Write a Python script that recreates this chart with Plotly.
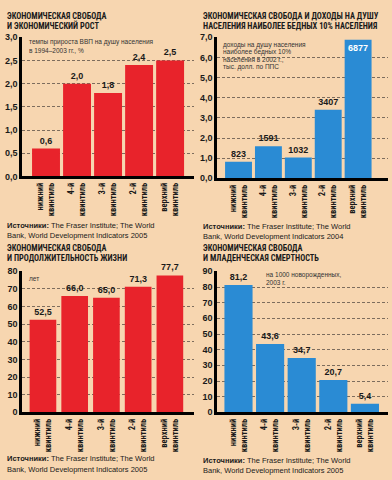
import plotly.graph_objects as go

# ---------------- data ----------------
categories = ["нижний<br>квинтиль", "4-й<br>квинтиль", "3-й<br>квинтиль",
              "2-й<br>квинтиль", "верхний<br>квинтиль"]
gdp_growth = [0.6, 2.0, 1.8, 2.4, 2.5]          # % per year 1994-2003
poor_income = [823, 1591, 1032, 3407, 6877]     # USD PPP, 2002
life_exp = [52.5, 66.0, 65.0, 71.3, 77.7]       # years
infant_mort = [81.2, 43.6, 34.7, 20.7, 5.4]     # per 1000 births

titles = [
    ["ЭКОНОМИЧЕСКАЯ СВОБОДА", "И ЭКОНОМИЧЕСКИЙ РОСТ"],
    ["ЭКОНОМИЧЕСКАЯ СВОБОДА И ДОХОДЫ НА ДУШУ", "НАСЕЛЕНИЯ НАИБОЛЕЕ БЕДНЫХ 10% НАСЕЛЕНИЯ"],
    ["ЭКОНОМИЧЕСКАЯ СВОБОДА", "И ПРОДОЛЖИТЕЛЬНОСТЬ ЖИЗНИ"],
    ["ЭКОНОМИЧЕСКАЯ СВОБОДА", "И МЛАДЕНЧЕСКАЯ СМЕРТНОСТЬ"],
]
notes = [
    ["темпы прироста ВВП на душу населения", "в 1994–2003 гг., %"],
    ["доходы на душу населения", "наиболее бедных 10%", "населения в 2002 г.,", "тыс. долл. по ППС"],
    ["лет"],
    ["на 1000 новорожденных,", "2003 г."],
]
sources = [
    ["The Fraser Institute; The World", "Bank, World Development Indicators 2005"],
    ["The Fraser Institute; The World", "Bank, World Development Indicators 2004"],
    ["The Fraser Institute; The World", "Bank, World Development Indicators 2005"],
    ["The Fraser Institute; The World", "Bank, World Development Indicators 2005"],
]

# ---------------- style ----------------
W, H = 392, 480
RED = "#e8232b"
BLUE = "#2a8bd4"
BG = "#f7d6b0"
INK = "#1a1a1a"
GRID = "#7d6d5d"
NARROW = "Roboto Condensed, DejaVu Sans Condensed, sans-serif"
REG = "Liberation Sans, Arial, sans-serif"


def px(x):
    return x / W


def py(y):
    return 1 - y / H


def comma1(v):
    return f"{v:.1f}".replace(".", ",")


panels = [
    dict(y=gdp_growth, text=[comma1(v) for v in gdp_growth], color=RED,
         xdom=(22, 194), ydom=(33, 175), xr=[-0.774, 4.77], yr=[0, 3], dt=0.5, fmt=".1f",
         bw=0.9, left=5, ty=(11.5, 21), noteloc=(27, 38, 8), src=(225, 235),
         tpos="outside"),
    dict(y=[v / 1000 for v in poor_income], text=[str(v) for v in poor_income], color=BLUE,
         xdom=(217, 388), ydom=(33, 177), xr=[-0.72, 5.0], yr=[0, 7], dt=1, fmt=".1f",
         bw=0.9, left=201, ty=(11.5, 21), noteloc=(221, 40.5, 7.5), src=(226.5, 236.5),
         tpos=["outside", "outside", "outside", "outside", "inside"]),
    dict(y=life_exp, text=[comma1(v) for v in life_exp], color=RED,
         xdom=(22, 194), ydom=(272, 416), xr=[-0.66, 4.76], yr=[0, 80], dt=10, fmt="d",
         bw=0.84, left=5, ty=(248.5, 258.5), noteloc=(27, 279, 8), src=(463.5, 474),
         tpos="outside"),
    dict(y=infant_mort, text=[comma1(v) for v in infant_mort], color=BLUE,
         xdom=(217, 388), ydom=(272, 416), xr=[-0.68, 4.73], yr=[0, 90], dt=10, fmt="d",
         bw=0.89, left=201, ty=(248.5, 258.5), noteloc=(264, 275.5, 8), src=(465, 475),
         tpos="outside"),
]

fig = go.Figure()
annotations = []
layout_axes = {}

for i, p in enumerate(panels):
    n = "" if i == 0 else str(i + 1)
    fig.add_trace(go.Bar(
        x=categories, y=p["y"], text=p["text"], textposition=p["tpos"],
        insidetextanchor="end", constraintext="none",
        outsidetextfont=dict(family=REG, size=9, color=INK, weight="bold"),
        insidetextfont=dict(family=REG, size=9, color="white", weight="bold"),
        marker=dict(color=p["color"], line=dict(width=0)),
        width=p["bw"], cliponaxis=False, showlegend=False, hoverinfo="skip",
        xaxis="x" + n, yaxis="y" + n,
    ))
    layout_axes["xaxis" + n] = dict(
        domain=[px(p["xdom"][0]), px(p["xdom"][1])], anchor="y" + n,
        type="category", range=p["xr"], tickangle=-90,
        tickfont=dict(family=NARROW, size=8.5, color=INK, weight="bold"),
        showline=True, linecolor="black", linewidth=3, showgrid=False,
        ticks="", ticklen=0, zeroline=False, fixedrange=True,
    )
    layout_axes["yaxis" + n] = dict(
        domain=[py(p["ydom"][1]), py(p["ydom"][0])], anchor="x" + n,
        range=p["yr"], dtick=p["dt"], tick0=0, tickformat=p["fmt"],
        tickfont=dict(family=REG, size=9, color=INK, weight="bold"),
        showline=True, linecolor="black", linewidth=2.5,
        showgrid=True, gridcolor=GRID, gridwidth=0.7, griddash="3px,2px",
        zeroline=False, ticks="", fixedrange=True,
    )
    # titles
    for line, yy in zip(titles[i], p["ty"]):
        annotations.append(dict(
            text=line, x=px(p["left"]), y=py(yy), xref="paper", yref="paper",
            xanchor="left", yanchor="middle", showarrow=False,
            font=dict(family=NARROW, size=8.3, color=INK, weight="bold")))
    # notes inside plot
    nx, ny, nstep = p["noteloc"]
    for k, line in enumerate(notes[i]):
        annotations.append(dict(
            text=line, x=px(nx), y=py(ny + k * nstep), xref="paper", yref="paper",
            xanchor="left", yanchor="middle", showarrow=False,
            font=dict(family=REG, size=6.5, color="#333333")))
    # sources
    for k, (line, yy) in enumerate(zip(sources[i], p["src"])):
        txt = ("<b>Источники:</b> " + line) if k == 0 else line
        annotations.append(dict(
            text=txt, x=px(p["left"]), y=py(yy), xref="paper", yref="paper",
            xanchor="left", yanchor="middle", showarrow=False,
            font=dict(family=REG, size=7.5, color=INK)))

fig.update_layout(
    width=W, height=H, margin=dict(l=0, r=0, t=0, b=0),
    paper_bgcolor=BG, plot_bgcolor=BG,
    separators=", ", annotations=annotations, bargap=0.1,
    **layout_axes,
)

fig.write_html("out.html", config={"displayModeBar": False},
               post_script="document.body.style.margin='0';document.body.style.overflow='hidden';")
